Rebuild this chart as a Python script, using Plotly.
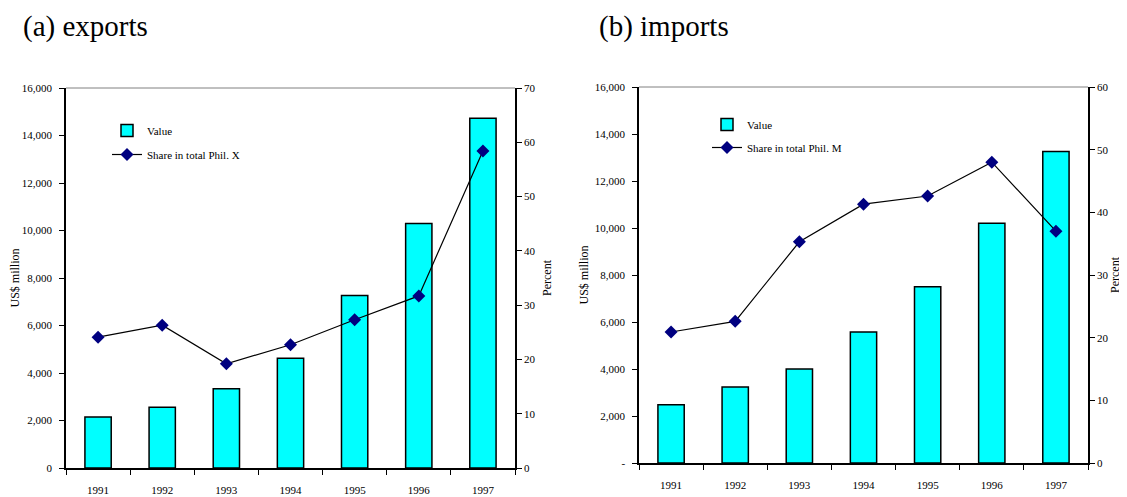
import plotly.graph_objects as go

years = ["1991", "1992", "1993", "1994", "1995", "1996", "1997"]
exports_value = [2150, 2560, 3340, 4620, 7260, 10300, 14730]
exports_share = [24.1, 26.3, 19.2, 22.7, 27.3, 31.7, 58.4]
imports_value = [2480, 3230, 4000, 5570, 7500, 10200, 13260]
imports_share = [20.9, 22.6, 35.3, 41.3, 42.6, 48.0, 37.0]

left_ticks = [0, 2000, 4000, 6000, 8000, 10000, 12000, 14000, 16000]
left_ticktext_a = ["0", "2,000", "4,000", "6,000", "8,000", "10,000", "12,000", "14,000", "16,000"]
left_ticktext_b = ["-", "2,000", "4,000", "6,000", "8,000", "10,000", "12,000", "14,000", "16,000"]

OFF = 8  # default page body margin
W, H = 1127 - OFF, 497 - OFF
FONT = "Liberation Serif, Times New Roman, serif"
BAR_COLOR = "#00FFFF"
LINE_MARK = "#000080"

def px_x(p):
    return (p - OFF) / W

def px_y(p):
    return 1 - (p - OFF) / H

fig = go.Figure()

fig.add_trace(go.Bar(x=years, y=exports_value, name="Value", xaxis="x", yaxis="y",
                     marker=dict(color=BAR_COLOR, line=dict(color="black", width=1.5)),
                     legend="legend", legendgroup="a1"))
fig.add_trace(go.Scatter(x=years, y=exports_share, name="Share in total Phil. X", xaxis="x", yaxis="y2",
                         mode="lines+markers", line=dict(color="black", width=1.2),
                         marker=dict(symbol="diamond", size=10, color=LINE_MARK),
                         legend="legend", legendgroup="a2"))
fig.add_trace(go.Bar(x=years, y=imports_value, name="Value", xaxis="x3", yaxis="y3",
                     marker=dict(color=BAR_COLOR, line=dict(color="black", width=1.5)),
                     legend="legend2", legendgroup="b1"))
fig.add_trace(go.Scatter(x=years, y=imports_share, name="Share in total Phil. M", xaxis="x3", yaxis="y4",
                         mode="lines+markers", line=dict(color="black", width=1.2),
                         marker=dict(symbol="diamond", size=10, color=LINE_MARK),
                         legend="legend2", legendgroup="b2"))

tickfont = dict(family=FONT, size=11, color="black")

def xaxis_cfg(dom, anchor):
    return dict(domain=dom, anchor=anchor, type="category", tickson="boundaries",
                ticks="outside", ticklen=5, tickcolor="black", showline=True, linecolor="black",
                linewidth=1.5, tickfont=tickfont, showgrid=False, mirror=False, zeroline=False,
                automargin=False, ticklabelstandoff=11)

def yaxis_cfg(dom, anchor, rng, ticktext):
    return dict(domain=dom, anchor=anchor, range=rng, tickvals=left_ticks, ticktext=ticktext,
                ticks="outside", ticklen=5, tickcolor="black", showline=True, linecolor="black",
                linewidth=1.5, tickfont=tickfont, showgrid=False, zeroline=False, automargin=False,
                ticklabelstandoff=5,
                title=dict(text="US$ million", font=dict(family=FONT, size=12), standoff=4))

def y2_cfg(overlay, anchor, rng, dtick, standoff):
    return dict(overlaying=overlay, anchor=anchor, side="right", range=rng, dtick=dtick,
                ticks="outside", ticklen=5, tickcolor="black", showline=True, linecolor="black",
                linewidth=1.5, tickfont=tickfont, showgrid=False, zeroline=False, automargin=False,
                title=dict(text="Percent", font=dict(family=FONT, size=12), standoff=standoff))

xa = [px_x(66), px_x(515)]
ya = [px_y(468), px_y(88)]
xb = [px_x(639), px_x(1088)]
yb = [px_y(463), px_y(87)]

fig.update_layout(
    width=W, height=H,
    margin=dict(l=0, r=0, t=0, b=0, autoexpand=False),
    paper_bgcolor="white", plot_bgcolor="white",
    font=dict(family=FONT, color="black"),
    bargap=0.59,
    xaxis=xaxis_cfg(xa, "y"),
    yaxis=yaxis_cfg(ya, "x", [0, 16000], left_ticktext_a),
    yaxis2=y2_cfg("y", "x", [0, 70], 10, 8),
    xaxis3=xaxis_cfg(xb, "y3"),
    yaxis3=yaxis_cfg(yb, "x3", [0, 16000], left_ticktext_b),
    yaxis4=y2_cfg("y3", "x3", [0, 60], 10, 2),
    legend=dict(x=px_x(107), y=px_y(116), xanchor="left", yanchor="top",
                font=dict(family=FONT, size=11), bgcolor="rgba(0,0,0,0)",
                traceorder="grouped", tracegroupgap=5),
    legend2=dict(x=px_x(707), y=px_y(110), xanchor="left", yanchor="top",
                 font=dict(family=FONT, size=11), bgcolor="rgba(0,0,0,0)",
                 traceorder="grouped", tracegroupgap=4),
    annotations=[
        dict(text="(a) exports", x=px_x(21), y=px_y(26), xref="paper", yref="paper",
             xanchor="left", yanchor="middle", showarrow=False, font=dict(family=FONT, size=29)),
        dict(text="(b) imports", x=px_x(597), y=px_y(26), xref="paper", yref="paper",
             xanchor="left", yanchor="middle", showarrow=False, font=dict(family=FONT, size=29)),
    ],
    shapes=[
        dict(type="line", xref="paper", yref="paper", x0=xa[0], x1=xa[1], y0=ya[1], y1=ya[1],
             line=dict(color="#808080", width=1)),
        dict(type="line", xref="paper", yref="paper", x0=xb[0], x1=xb[1], y0=yb[1], y1=yb[1],
             line=dict(color="#808080", width=1)),
    ],
)

fig.write_html("out.html")
